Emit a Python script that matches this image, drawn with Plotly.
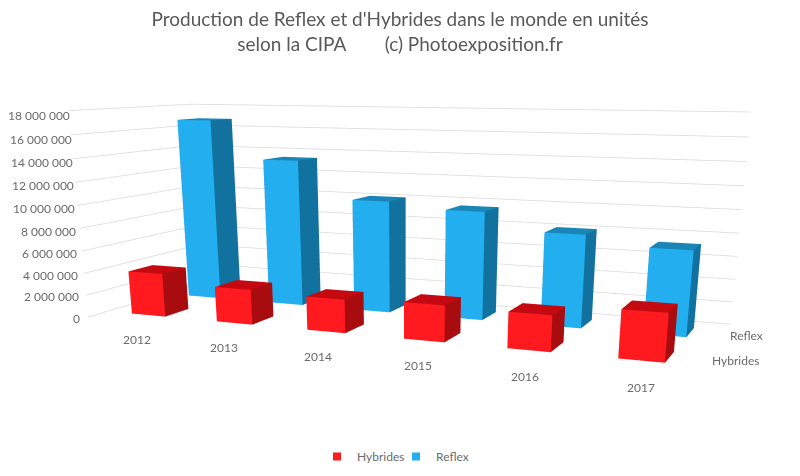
import plotly.graph_objects as go

years = ["2012", "2013", "2014", "2015", "2016", "2017"]
series = ["Hybrides", "Reflex"]
hybrides = [3900000, 3100000, 2900000, 3100000, 3000000, 3900000]
reflex = [16800000, 13400000, 10100000, 9600000, 8100000, 7300000]
z_ticks = [0, 2000000, 4000000, 6000000, 8000000, 10000000, 12000000, 14000000, 16000000, 18000000]
z_labels = ["0", "2 000 000", "4 000 000", "6 000 000", "8 000 000", "10 000 000",
            "12 000 000", "14 000 000", "16 000 000", "18 000 000"]

TXT = "#6b6b6b"
FONT = "Lato, Carlito, sans-serif"
RED = ("#FF1A1F", "#A80C0F", "#C40A10")
BLUE = ("#22AEEF", "#11719F", "#1A86B8")
FIG_H = 952


def bars(name, vals, row, colors):
    front, side, top = colors
    xs, ys, zs, I, J, K, fc = [], [], [], [], [], [], []
    b = 0.3
    for c, v in enumerate(vals):
        x0, x1, y0, y1 = c + b, c + 1 - b, row + b, row + 1 - b
        n = len(xs)
        xs += [x0, x1, x1, x0, x0, x1, x1, x0]
        ys += [y0, y0, y1, y1, y0, y0, y1, y1]
        zs += [0, 0, 0, 0, v, v, v, v]
        quads = [((0, 1, 5), (0, 5, 4), front), ((1, 2, 6), (1, 6, 5), side),
                 ((4, 5, 6), (4, 6, 7), top), ((3, 0, 4), (3, 4, 7), side),
                 ((2, 3, 7), (2, 7, 6), side), ((0, 2, 1), (0, 3, 2), side)]
        for t1, t2, col in quads:
            for t in (t1, t2):
                I.append(n + t[0]); J.append(n + t[1]); K.append(n + t[2]); fc.append(col)
    return go.Mesh3d(x=xs, y=ys, z=zs, i=I, j=J, k=K, facecolor=fc, name=name,
                     flatshading=True, showlegend=False, hoverinfo="name",
                     lighting=dict(ambient=1, diffuse=0, specular=0, roughness=1, fresnel=0))


def key(name, color):
    return go.Scatter3d(x=[None], y=[None], z=[None], mode="markers", name=name, showlegend=True,
                        marker=dict(symbol="square", size=8, color=color), hoverinfo="skip")


fig = go.Figure()
fig.add_trace(bars(series[0], hybrides, 0, RED))
fig.add_trace(bars(series[1], reflex, 1, BLUE))
fig.add_trace(key(series[0], RED[0]))
fig.add_trace(key(series[1], BLUE[0]))

notes = []
for v, t in zip(z_ticks, z_labels):
    frac = v / z_ticks[-1]
    notes.append(dict(x=0, y=0, z=v, text=t, showarrow=False, xanchor="right", yanchor="middle",
                      xshift=-6 + 10 * frac, yshift=-1 - 4 * frac, font=dict(size=12, color=TXT, family=FONT)))
for i, t in enumerate(years):
    notes.append(dict(x=i + 0.5, y=0, z=0, text=t, showarrow=False, xanchor="center", yanchor="middle",
                      yshift=-18, xshift=7, font=dict(size=12, color=TXT, family=FONT)))
for j, t in enumerate(series):
    notes.append(dict(x=6, y=j + 0.5, z=0, text=t, showarrow=False, xanchor="left", yanchor="middle",
                      yshift=0, xshift=5, font=dict(size=12, color=TXT, family=FONT)))

axis_off = dict(showbackground=False, showline=False, zeroline=False, showspikes=False, title="",
                showticklabels=False, ticks="")
fig.update_layout(
    width=800, height=FIG_H, paper_bgcolor="white",
    margin=dict(l=0, r=0, t=0, b=0),
    font=dict(family=FONT, color=TXT, size=12),
    title=dict(text="Production de Reflex et d'Hybrides dans le monde en unités<br>selon la CIPA\u00a0\u00a0\u00a0\u00a0\u00a0\u00a0\u00a0\u00a0(c) Photoexposition.fr",
               x=0.49, xanchor="center", y=1 - 18 / FIG_H, yanchor="top", font=dict(size=19, color="#595959", family=FONT)),
    legend=dict(orientation="h", x=0.485, xanchor="center", y=1 - 463 / FIG_H, yanchor="bottom",
                entrywidth=34, entrywidthmode="pixels", font=dict(size=12, color=TXT)),
    scene=dict(
        domain=dict(x=[0, 1], y=[0, 1]),
        aspectmode="manual", aspectratio=dict(x=1.02, y=0.36, z=0.335),
        camera=dict(eye=dict(x=0.735, y=-1.763, z=0.235), center=dict(x=0.0163, y=-0.0256, z=-0.449), up=dict(x=0, y=0, z=1)),
        annotations=notes,
        xaxis=dict(axis_off, range=[0, 6], showgrid=False),
        yaxis=dict(axis_off, range=[0, 2], showgrid=False),
        zaxis=dict(axis_off, range=[0, 18000000], tickvals=z_ticks, showgrid=True, gridcolor="#D9D9D9", gridwidth=1.5),
    ),
)
fig.write_html("out.html")
